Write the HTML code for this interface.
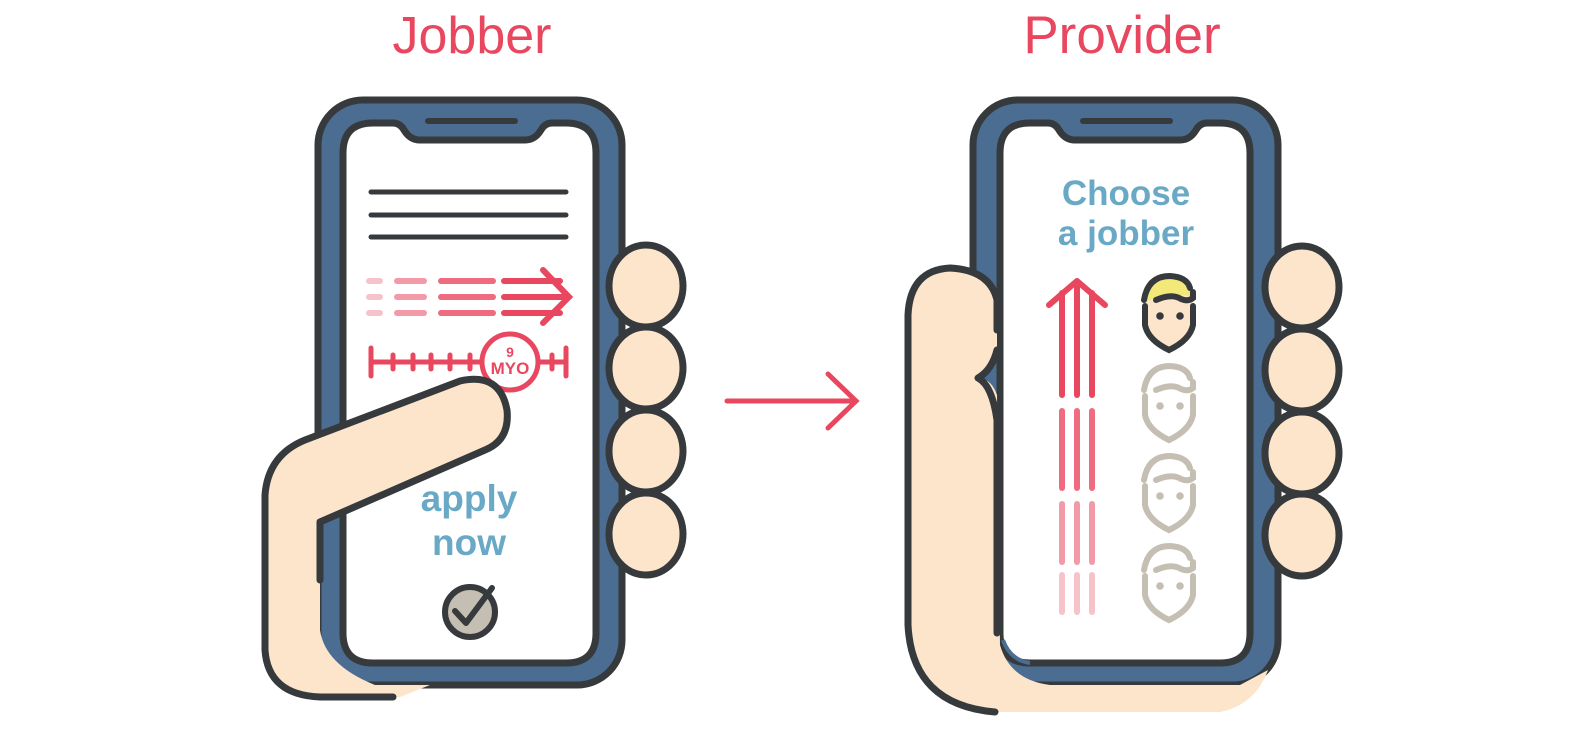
<!DOCTYPE html>
<html><head><meta charset="utf-8"><style>
html,body{margin:0;padding:0;background:#fff;}
svg{display:block;}
</style></head><body>
<svg width="1574" height="735" viewBox="0 0 1574 735" xmlns="http://www.w3.org/2000/svg">
<defs>
<g id="face">
<path d="M1145 306 L1145 325 Q1148 340 1169 350 Q1190 340 1193 325 L1193 306" fill="none" stroke-width="6" stroke-linecap="round"/>
<path d="M1144 300 Q1148 276 1170 276 Q1187 277 1190 288" fill="none" stroke-width="6" stroke-linecap="round"/>
<path d="M1156 300 Q1172 293 1181 299 Q1188 302 1193 298 L1193 292" fill="none" stroke-width="6" stroke-linecap="round"/>
<circle cx="1160" cy="316" r="3.3"/><circle cx="1180" cy="316" r="3.3"/>
</g>
</defs>
<g font-family="Liberation Sans, sans-serif" fill="#e8475f" text-anchor="middle">
<text x="472" y="53" font-size="52">Jobber</text>
<text x="1122" y="53" font-size="53">Provider</text>
</g>
<!-- middle arrow -->
<g stroke="#e8475f" stroke-width="5" stroke-linecap="round" fill="none">
<line x1="727" y1="401" x2="856" y2="401"/>
<polyline points="828,374 856,401 828,428"/>
</g>

<!-- LEFT PHONE -->
<g stroke="#363a3d" stroke-width="7" stroke-linecap="round" stroke-linejoin="round">
<rect x="318" y="100" width="304" height="585" rx="45" fill="#4a6d91"/>
<path d="M373 123 L393 123 Q400 123 404 130 Q410 140 420 140 L525 140 Q535 140 541 130 Q545 123 552 123 L566 123 Q596 123 596 153 L596 633 Q596 663 566 663 L373 663 Q343 663 343 633 L343 153 Q343 123 373 123 Z" fill="#fff"/>
<line x1="428" y1="121" x2="515" y2="121" stroke-width="6"/>
</g>
<g stroke="#363a3d" stroke-width="5" stroke-linecap="round">
<line x1="371" y1="192" x2="566" y2="192"/><line x1="371" y1="215" x2="566" y2="215"/><line x1="371" y1="237" x2="566" y2="237"/>
</g>
<g stroke-width="6" stroke-linecap="round" fill="none">
<g stroke="#f7c3cb"><line x1="369" y1="281" x2="380" y2="281"/><line x1="369" y1="297" x2="380" y2="297"/><line x1="369" y1="313" x2="380" y2="313"/></g>
<g stroke="#f39aa8"><line x1="397" y1="281" x2="424" y2="281"/><line x1="397" y1="297" x2="424" y2="297"/><line x1="397" y1="313" x2="424" y2="313"/></g>
<g stroke="#ee6b80"><line x1="441" y1="281" x2="493" y2="281"/><line x1="441" y1="297" x2="493" y2="297"/><line x1="441" y1="313" x2="493" y2="313"/></g>
<g stroke="#e8475f"><line x1="504" y1="281" x2="560" y2="281"/><line x1="504" y1="297" x2="566" y2="297"/><line x1="504" y1="313" x2="560" y2="313"/><polyline points="543,270 569,297 543,323"/></g>
<g stroke="#e8475f" stroke-width="5">
<line x1="371" y1="362" x2="566" y2="362"/>
<line x1="371" y1="348" x2="371" y2="376"/><line x1="566" y1="348" x2="566" y2="376"/>
<line x1="393" y1="355" x2="393" y2="369"/><line x1="413" y1="355" x2="413" y2="369"/><line x1="431" y1="355" x2="431" y2="369"/><line x1="450" y1="355" x2="450" y2="369"/><line x1="470" y1="355" x2="470" y2="369"/><line x1="552" y1="355" x2="552" y2="369"/>
<circle cx="510" cy="362" r="28" fill="#fff"/>
</g>
</g>
<g font-family="Liberation Sans, sans-serif" font-weight="bold" fill="#e8475f" text-anchor="middle">
<text x="510" y="357" font-size="14">9</text>
<text x="510" y="374" font-size="17">MYO</text>
</g>
<!-- left fingers -->
<g fill="#fce5cb" stroke="#363a3d" stroke-width="7">
<ellipse cx="646" cy="286" rx="37" ry="41"/>
<ellipse cx="646" cy="368" rx="37" ry="41"/>
<ellipse cx="646" cy="451" rx="37" ry="41"/>
<ellipse cx="646" cy="534" rx="37" ry="41"/>
</g>
<!-- left hand -->
<path d="M305 440 L460 381 Q500 372 507 410 Q510 440 485 450 L320 522 L320 630 Q325 665 375 685 L430 685 L400 697 L320 697 Q265 690 265 640 L265 495 Q268 455 305 440 Z" fill="#fce5cb"/>
<path d="M320 580 L320 522 L485 450 Q510 440 507 410 Q500 372 460 381 L305 440 Q268 455 265 495 L265 650 Q268 695 320 697 L393 697" fill="none" stroke="#363a3d" stroke-width="7" stroke-linecap="round" stroke-linejoin="round"/>
<g font-family="Liberation Sans, sans-serif" font-weight="bold" fill="#6aa9c6" font-size="37" text-anchor="middle">
<text x="469" y="511">apply</text>
<text x="469" y="555">now</text>
</g>
<circle cx="470" cy="612" r="25" fill="#c5bfb3" stroke="#363a3d" stroke-width="6"/>
<polyline points="455,611 466,623 492,588" fill="none" stroke="#363a3d" stroke-width="6" stroke-linecap="round" stroke-linejoin="round"/>

<!-- RIGHT PHONE -->
<g stroke="#363a3d" stroke-width="7" stroke-linecap="round" stroke-linejoin="round">
<rect x="973" y="100" width="305" height="585" rx="45" fill="#4a6d91"/>
<path d="M1030 123 L1048 123 Q1055 123 1059 130 Q1065 140 1075 140 L1180 140 Q1190 140 1196 130 Q1200 123 1207 123 L1220 123 Q1250 123 1250 153 L1250 633 Q1250 663 1220 663 L1030 663 Q1000 663 1000 633 L1000 153 Q1000 123 1030 123 Z" fill="#fff"/>
<line x1="1083" y1="121" x2="1170" y2="121" stroke-width="6"/>
</g>
<g font-family="Liberation Sans, sans-serif" font-weight="bold" fill="#6aa9c6" font-size="35" text-anchor="middle">
<text x="1126" y="205">Choose</text>
<text x="1126" y="245">a jobber</text>
</g>
<g stroke-width="6" stroke-linecap="round" stroke-linejoin="round" fill="none">
<g stroke="#e8475f"><line x1="1062" y1="293" x2="1062" y2="395"/><line x1="1077" y1="283" x2="1077" y2="395"/><line x1="1092" y1="293" x2="1092" y2="395"/><polyline points="1049,305 1077,281 1105,305"/></g>
<g stroke="#ee6b80"><line x1="1062" y1="411" x2="1062" y2="488"/><line x1="1077" y1="411" x2="1077" y2="488"/><line x1="1092" y1="411" x2="1092" y2="488"/></g>
<g stroke="#f39aa8"><line x1="1062" y1="504" x2="1062" y2="562"/><line x1="1077" y1="504" x2="1077" y2="562"/><line x1="1092" y1="504" x2="1092" y2="562"/></g>
<g stroke="#f7c3cb"><line x1="1062" y1="575" x2="1062" y2="612"/><line x1="1077" y1="575" x2="1077" y2="612"/><line x1="1092" y1="575" x2="1092" y2="612"/></g>
</g>
<!-- faces -->
<path d="M1145 300 Q1148 276 1170 276 Q1190 277 1193 300 L1193 325 Q1190 340 1169 350 Q1148 340 1145 325 Z" fill="#fce5cb"/>
<path d="M1145 302 Q1148 276 1170 276 Q1190 277 1193 298 Q1182 292 1170 298 Q1158 296 1145 302 Z" fill="#f3e97a"/>
<use href="#face" stroke="#363a3d" fill="#363a3d"/>
<use href="#face" stroke="#c5bfb3" fill="#c5bfb3" transform="translate(0,90)"/>
<use href="#face" stroke="#c5bfb3" fill="#c5bfb3" transform="translate(0,180)"/>
<use href="#face" stroke="#c5bfb3" fill="#c5bfb3" transform="translate(0,270)"/>
<!-- right fingers -->
<g fill="#fce5cb" stroke="#363a3d" stroke-width="7">
<ellipse cx="1302" cy="287" rx="37" ry="41"/>
<ellipse cx="1302" cy="370" rx="37" ry="41"/>
<ellipse cx="1302" cy="453" rx="37" ry="41"/>
<ellipse cx="1302" cy="535" rx="37" ry="41"/>
</g>
<!-- right hand -->
<path d="M997 300 Q990 270 950 268 Q910 270 908 315 L908 625 Q912 705 995 712 L1220 712 Q1255 705 1268 670 L1240 685 L1050 685 Q1010 680 1000 645 L997 395 Q992 380 980 378 Q992 370 997 350 Z" fill="#fce5cb"/>
<path d="M997 330 L997 300 Q990 270 950 268 Q910 270 908 315 L908 625 Q912 705 995 712" fill="none" stroke="#363a3d" stroke-width="7" stroke-linecap="round" stroke-linejoin="round"/>
<path d="M997 350 Q992 370 978 378 Q992 385 997 420 L997 633" fill="none" stroke="#363a3d" stroke-width="7" stroke-linecap="round" stroke-linejoin="round"/>
<path d="M1003 640 Q1010 660 1030 663" fill="none" stroke="#4a6d91" stroke-width="4"/>
</svg>
</body></html>
